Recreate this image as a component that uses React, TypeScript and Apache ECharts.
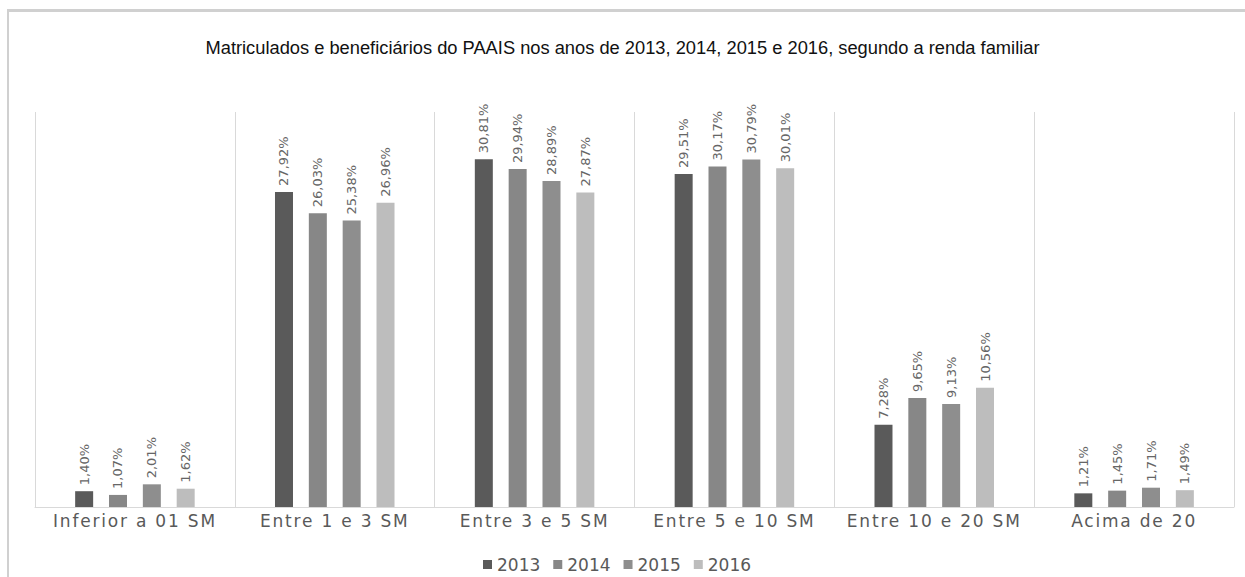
import React, { useEffect, useRef } from "react";
import * as echarts from "echarts";

const categories = [
  "Inferior a 01 SM",
  "Entre 1 e 3 SM",
  "Entre 3 e 5 SM",
  "Entre 5 e 10 SM",
  "Entre 10 e 20 SM",
  "Acima de 20",
];
const years = ["2013", "2014", "2015", "2016"];
const values2013 = [1.4, 27.92, 30.81, 29.51, 7.28, 1.21];
const values2014 = [1.07, 26.03, 29.94, 30.17, 9.65, 1.45];
const values2015 = [2.01, 25.38, 28.89, 30.79, 9.13, 1.71];
const values2016 = [1.62, 26.96, 27.87, 30.01, 10.56, 1.49];
const seriesValues = [values2013, values2014, values2015, values2016];
const colors = ["#5a5a5a", "#878787", "#8e8e8e", "#bdbdbd"];
const titleText =
  "Matriculados e beneficiários do PAAIS nos anos de 2013, 2014, 2015 e 2016, segundo a renda familiar";

const fmt = (v: number) => v.toFixed(2).replace(".", ",") + "%";

export default function App() {
  const ref = useRef<HTMLDivElement>(null);
  useEffect(() => {
    if (!ref.current) return;
    const chart = echarts.init(ref.current, undefined, { renderer: "svg" });
    chart.setOption({
      animation: false,
      backgroundColor: "#ffffff",
      title: {
        text: titleText,
        left: "center",
        top: 33,
        textStyle: {
          fontFamily: "Liberation Sans",
          fontSize: 18.3,
          fontWeight: "normal",
          color: "#111111",
        },
      },
      graphic: [
        { type: "rect", shape: { x: 7, y: 9, width: 1238, height: 3 }, style: { fill: "#d0d0d0" } },
        { type: "rect", shape: { x: 7, y: 9, width: 2, height: 568 }, style: { fill: "#d0d0d0" } },
      ],
      legend: {
        data: years,
        left: 478,
        top: 551,
        icon: "rect",
        itemWidth: 9,
        itemHeight: 9,
        itemGap: 13,
        textStyle: { fontFamily: "DejaVu Sans", fontSize: 17, color: "#595959" },
      },
      grid: { left: 35, right: 11, top: 112, bottom: 70 },
      xAxis: {
        type: "category",
        data: categories,
        axisLine: { show: true, lineStyle: { color: "#d9d9d9", width: 1 } },
        axisTick: { show: false },
        splitLine: { show: true, lineStyle: { color: "#d9d9d9", width: 1 } },
        axisLabel: {
          margin: 5,
          fontFamily: "'DejaVu Sans', CatLabelFont",
          fontSize: 17,
          color: "#595959",
          interval: 0,
        },
      },
      yAxis: {
        type: "value",
        min: 0,
        max: 35,
        show: false,
        splitLine: { show: false },
      },
      series: years.map((y, i) => ({
        name: y,
        type: "bar",
        data: seriesValues[i],
        barWidth: 18,
        barGap: "88%",
        itemStyle: { color: colors[i] },
        label: {
          show: true,
          position: "top",
          rotate: 90,
          align: "left",
          verticalAlign: "middle",
          distance: 6,
          fontFamily: "DejaVu Sans",
          fontSize: 13,
          color: "#666666",
          formatter: (p: any) => fmt(p.value),
        },
      })),
    });
    return () => chart.dispose();
  }, []);
  return (
    <>
      <style>{`text[style*="CatLabelFont"]{letter-spacing:1.8px;}`}</style>
      <div
        ref={ref}
        style={{ position: "absolute", left: 0, top: 0, width: 1245, height: 577 }}
      />
    </>
  );
}
